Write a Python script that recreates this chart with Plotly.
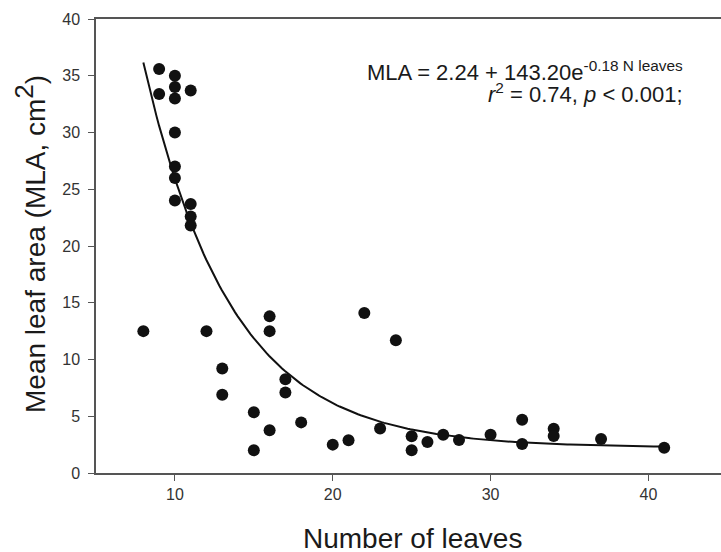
import numpy as np
import plotly.graph_objects as go

# Observed data (number of leaves, mean leaf area)
n_leaves = [9, 9, 10, 10, 10, 10, 10, 10, 10, 11, 11, 11, 11,
            8, 12, 16, 16, 13, 13, 17, 17, 15, 15, 16, 18, 20, 21,
            22, 24, 23, 25, 25, 26, 27, 28, 30, 32, 32, 34, 34, 37, 41]
mla = [35.6, 33.4, 35.0, 34.0, 33.0, 30.0, 27.0, 26.0, 24.0, 33.7, 23.7, 22.6, 21.8,
       12.5, 12.5, 13.8, 12.5, 9.2, 6.9, 8.25, 7.1, 5.35, 2.0, 3.76, 4.46, 2.5, 2.88,
       14.1, 11.7, 3.93, 3.23, 2.0, 2.73, 3.38, 2.9, 3.38, 4.7, 2.55, 3.9, 3.26, 3.0, 2.23]

# Fit parameters shown on the chart
fit_a = 2.24
fit_b = 143.20
fit_k = 0.18
fit_range = [8, 41]

x_ticks = [10, 20, 30, 40]
y_ticks = [0, 5, 10, 15, 20, 25, 30, 35, 40]

fx = np.linspace(fit_range[0], fit_range[1], 200)
fy = fit_a + fit_b * np.exp(-fit_k * fx)

font_family = "Arial, Liberation Sans, sans-serif"
W, H = 721, 552
L, R, T, B = 96, 0, 19, 79
PW, PH = W - L - R, H - T - B


def px(p):
    return (p - L) / PW


def py(p):
    return (H - B - p) / PH


fig = go.Figure()
fig.add_trace(go.Scatter(x=fx, y=fy, mode="lines",
                         line=dict(color="#111111", width=2), showlegend=False,
                         hoverinfo="skip"))
fig.add_trace(go.Scatter(x=n_leaves, y=mla, mode="markers",
                         marker=dict(color="#111111", size=12), showlegend=False))

txt_font = dict(family=font_family, size=22, color="#1a1a1a")
fig.add_annotation(x=px(685), y=py(71), xref="paper", yref="paper",
                   xanchor="right", yanchor="middle",
                   text="MLA = 2.24 + 143.20e<sup>-0.18 N leaves</sup>",
                   showarrow=False, font=txt_font, align="right")
fig.add_annotation(x=px(685), y=py(93), xref="paper", yref="paper",
                   xanchor="right", yanchor="middle",
                   text="<i>r</i><sup>2</sup> = 0.74, <i>p</i> &lt; 0.001;",
                   showarrow=False, font=txt_font, align="right")

# axis titles
fig.add_annotation(x=px(412), y=py(538), xref="paper", yref="paper",
                   xanchor="center", yanchor="middle",
                   text="Number of leaves", showarrow=False,
                   font=dict(family=font_family, size=28, color="#1a1a1a"))
fig.add_annotation(x=px(30), y=py(244), xref="paper", yref="paper",
                   xanchor="center", yanchor="middle", textangle=-90,
                   text="Mean leaf area (MLA, cm<sup><span style=\"font-size:26px\">2</span></sup>)",
                   showarrow=False,
                   font=dict(family=font_family, size=28, color="#1a1a1a"))

axis_common = dict(showgrid=False, zeroline=False, showline=True, linecolor="#555555",
                   linewidth=1.5, ticks="outside", ticklen=6, tickwidth=1.2,
                   tickcolor="#555555", automargin=False,
                   tickfont=dict(family=font_family, size=16, color="#333333"))

fig.update_layout(
    width=W, height=H,
    margin=dict(l=L, r=R, t=T, b=B, autoexpand=False),
    paper_bgcolor="white", plot_bgcolor="white",
    font=dict(family=font_family),
    xaxis=dict(range=[5, 44.6], tickvals=x_ticks, mirror=True, **axis_common),
    yaxis=dict(range=[0, 40], tickvals=y_ticks, ticklabelstandoff=5, **axis_common),
)

fig.write_html("out.html",
               config={"displayModeBar": False},
               post_script="document.body.style.margin='0';document.body.style.padding='0';")
